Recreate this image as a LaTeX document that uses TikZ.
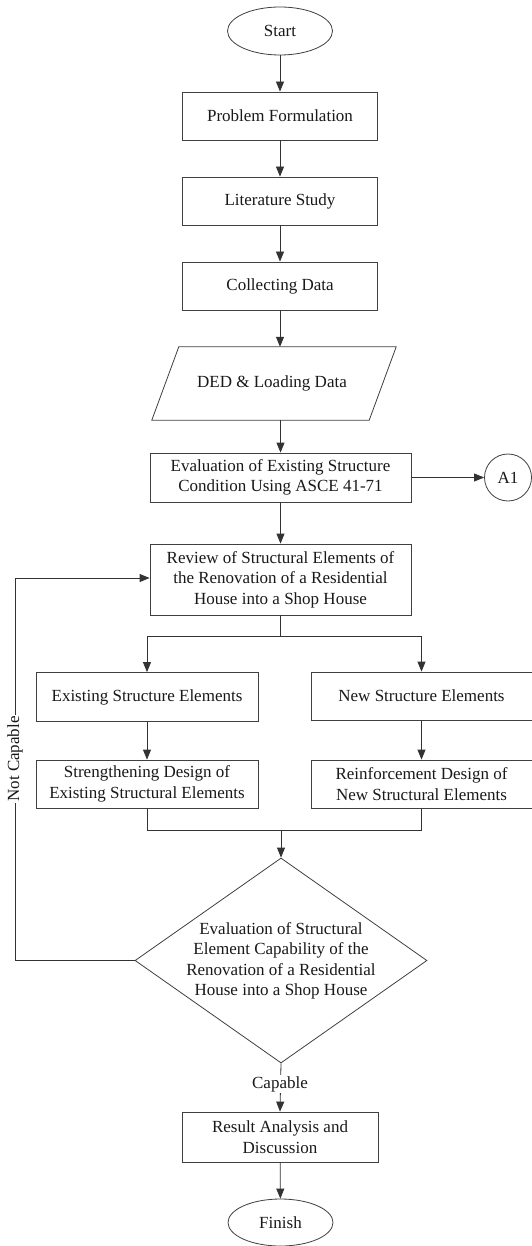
\documentclass[tikz,border=0pt]{standalone}
\usepackage{fontspec}
\setmainfont{Liberation Serif}
\usetikzlibrary{shapes.geometric,arrows.meta}
\begin{document}
\begin{tikzpicture}[x=1pt,y=-1pt,
  every node/.style={font=\fontsize{17}{20.5}\selectfont, text=black!90},
  box/.style={draw=black!75, line width=0.8pt, fill=white, inner sep=0pt, align=center},
  term/.style={ellipse, draw=black!75, line width=0.8pt, fill=white, inner sep=0pt},
  io/.style={rectangle, inner sep=0pt},
  dec/.style={diamond, draw=black!75, line width=0.8pt, fill=white, inner sep=0pt},
  conn/.style={circle, draw=black!75, line width=0.8pt, fill=white, inner sep=0pt},
  outline/.style={draw=black!75, line width=0.8pt, line join=miter},
  arr/.style={draw=black!80, line width=0.8pt, -{Triangle[length=10pt,width=8pt]}},
  ln/.style={draw=black!80, line width=0.8pt},
  lab/.style={fill=white, inner sep=1pt}]
\useasboundingbox (0,0) rectangle (532,1246);
\fill[white] (0,0) rectangle (532,1246);

\node[term, minimum width=105, minimum height=48] (start) at (280,31) {Start};
\node[box, minimum width=195, minimum height=48] (pf) at (280,116) {Problem Formulation};
\node[box, minimum width=195, minimum height=48] (ls) at (280,201) {Literature Study};
\node[box, minimum width=195, minimum height=48] (cd) at (280,286) {Collecting Data};
\node[io, minimum width=217, minimum height=73] (ded) at (274,383.5) {};
\draw[outline] ([xshift=13.5pt]ded.north west) -- ([xshift=13.5pt]ded.north east)
  -- ([xshift=-13.5pt]ded.south east) -- ([xshift=-13.5pt]ded.south west) -- cycle;
\node[inner sep=0pt] (dedtext) at (272,383.5) {DED \& Loading Data};
\node[box, minimum width=261, minimum height=49] (ev) at (280.5,477.5) {Evaluation of Existing Structure\\Condition Using ASCE 41-71};
\node[conn, minimum size=47] (a1) at (508,477.5) {A1};
\node[box, minimum width=261, minimum height=71] (rv) at (280.5,579.5) {Review of Structural Elements of\\the Renovation of a Residential\\House into a Shop House};
\node[box, minimum width=222, minimum height=49] (ex) at (147,697) {Existing Structure Elements};
\node[box, minimum width=221, minimum height=48] (nw) at (421.5,696) {New Structure Elements};
\node[box, minimum width=222, minimum height=48] (sd) at (147,784) {Strengthening Design of\\Existing Structural Elements};
\node[box, minimum width=221, minimum height=48] (rd) at (421.5,784) {Reinforcement Design of\\New Structural Elements};
\node[dec, minimum width=292, minimum height=205] (dia) at (281,960.5) {};
\node[align=center, inner sep=0pt] (diatext) at (281,961) {Evaluation of Structural\\Element Capability of the\\Renovation of a Residential\\House into a Shop House};
\node[box, minimum width=196, minimum height=50] (res) at (280,1137) {Result Analysis and\\Discussion};
\node[term, minimum width=105, minimum height=47] (fin) at (280.5,1222.5) {Finish};

\coordinate (split) at (280.5,636);
\coordinate (merge) at (281,830);
\coordinate (nc) at (15,960.5);

\draw[arr] (start) -- (pf);
\draw[arr] (pf) -- (ls);
\draw[arr] (ls) -- (cd);
\draw[arr] (cd.south) -- (cd.south |- ded.north);
\draw[arr] (ev.north |- ded.south) -- (ev.north);
\draw[arr] (ev) -- (a1);
\draw[arr] (ev) -- (rv);
\draw[ln] (rv.south) -- (split);
\draw[arr] (split) -| (ex.north);
\draw[arr] (split) -| (nw.north);
\draw[arr] (ex) -- (sd);
\draw[arr] (nw) -- (rd);
\draw[ln] (sd.south) |- (merge);
\draw[ln] (rd.south) |- (merge);
\draw[arr] (merge) -- (dia.north);
\draw[arr] (dia.west) -- (nc) |- ([yshift=1.5pt]rv.west);
\node[lab, rotate=90] (nclab) at (15,759) {Not Capable};
\draw[arr] (dia.south) -- (res.north);
\node[lab] (caplab) at (280,1084) {Capable};
\draw[arr] (res) -- (fin);
\end{tikzpicture}
\end{document}
